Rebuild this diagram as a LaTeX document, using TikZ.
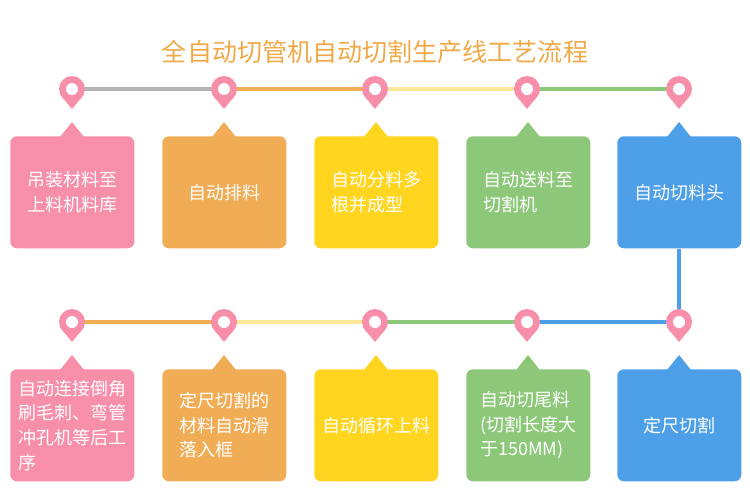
\documentclass[tikz,border=0pt]{standalone}
\usepackage{fontspec}
\newfontfamily\cjk{Noto Sans CJK SC}
\definecolor{cpink}{HTML}{F78FAB}
\definecolor{corange}{HTML}{F0AD55}
\definecolor{cyellow}{HTML}{FFD51F}
\definecolor{cgreen}{HTML}{8DC87A}
\definecolor{cblue}{HTML}{4DA0E8}
\definecolor{cgray}{HTML}{B4B4B4}
\definecolor{clight}{HTML}{FBE79A}
\definecolor{ctitle}{HTML}{F0A947}
\tikzset{
  stepbox/.style={rounded corners=5pt, minimum width=93pt, minimum height=84pt,
    anchor=north west, inner sep=0pt},
  steptext/.style={text=white, font=\cjk\fontsize{13.5}{18.5}\selectfont, align=left},
  track/.style={line width=3pt},
}
\newcommand{\pinmark}[1]{%
  \fill[cpink] (#1) ++(-9,9) -- ++(9,11) -- ++(9,-11) -- cycle;
  \fill[cpink] (#1) circle (13);
  \fill[white] (#1) circle (6);}
\begin{document}
\begin{tikzpicture}[x=0.75pt,y=-0.75pt]
\useasboundingbox (0,0) rectangle (750,497);
\node[text=ctitle, font=\cjk\fontsize{18.8}{22}\selectfont] (title) at (375,52) {全自动切管机自动切割生产线工艺流程};
% pins on both rows
\foreach \i/\x in {1/72,2/224,3/375,4/527,5/679} {
  \coordinate (p\i) at (\x,89);
  \coordinate (q\i) at (\x,322);
}
% tracks, top row
\draw[track,cgray] (p1) -- (p2);
\draw[track,corange] (p2) -- (p3);
\draw[track,clight] (p3) -- (p4);
\draw[track,cgreen] (p4) -- (p5);
% tracks, bottom row
\draw[track,corange] (q1) -- (q2);
\draw[track,clight] (q2) -- (q3);
\draw[track,cgreen] (q3) -- (q4);
\draw[track,cblue] (q4) -- (q5);
% boxes with notches
\foreach \i/\x/\c/\t in {1/10/cpink/{吊装材料至\\上料机料库},2/162/corange/{自动排料},
  3/314/cyellow/{自动分料多\\根并成型},4/466/cgreen/{自动送料至\\切割机},5/617/cblue/{自动切料头}} {
  \fill[\c] (\x+50,137) -- (\x+62,122) -- (\x+74,137) -- cycle;
  \node[stepbox, fill=\c] (a\i) at (\x,136) {};
  \node[steptext] at (a\i.center) {\t};
}
\foreach \i/\x/\c/\t in {1/10/cpink/{自动连接倒角\\刷毛刺、弯管\\冲孔机等后工\\序},2/162/corange/{定尺切割的\\材料自动滑\\落入框},
  3/314/cyellow/{自动循环上料},4/466/cgreen/{自动切尾料\\(切割长度大\\于150MM)},5/617/cblue/{定尺切割}} {
  \fill[\c] (\x+50,370) -- (\x+62,355) -- (\x+74,370) -- cycle;
  \node[stepbox, fill=\c] (b\i) at (\x,369) {};
  \node[steptext] at (b\i.center) {\t};
}
% link from top row down to bottom row
\draw[track,cblue] (a5.south -| q5) -- (q5);
\foreach \i in {1,...,5} { \pinmark{p\i} \pinmark{q\i} }
\end{tikzpicture}
\end{document}
